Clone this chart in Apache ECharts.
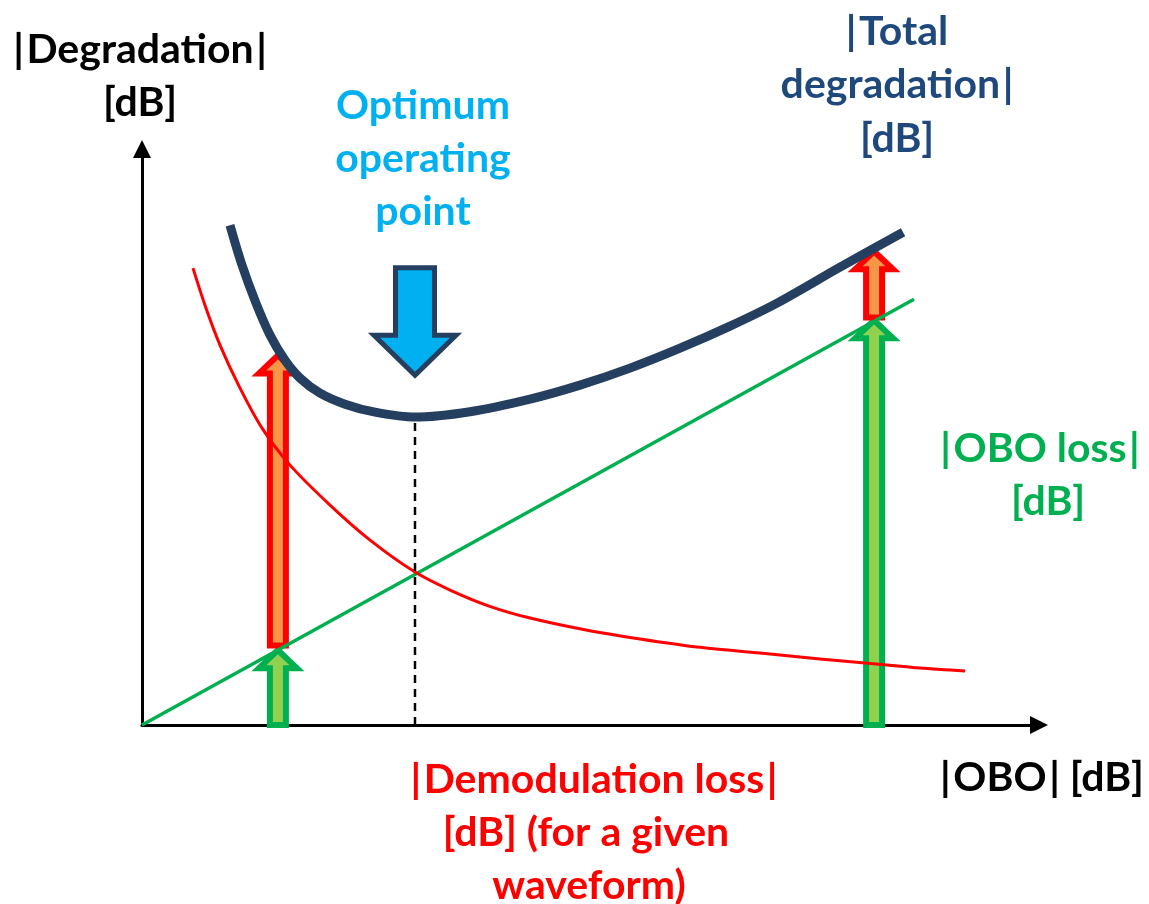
<!DOCTYPE html>
<html>
<head>
<meta charset="utf-8">
<script src="https://cdn.jsdelivr.net/npm/echarts@6/dist/echarts.min.js"></script>
<style>
  html, body { margin: 0; padding: 0; background: #fff; }
  #chart { width: 1149px; height: 904px; }
</style>
</head>
<body>
<div id="chart"></div>
<script>
// curves, in axis units (x: |OBO|, y: |degradation|)
const oboLoss = [[0, 0], [85.2, 72.8]];
const demodLoss = [
  [5.63, 78.12], [6.95, 71.79], [8.61, 64.96], [10.82, 57.61], [13.25, 50.77], [16.34, 44.44],
  [20.75, 37.61], [25.17, 31.62], [30.13, 26.15], [34.0, 23.08], [38.3, 20.34], [42.83, 18.29],
  [49.01, 16.24], [54.97, 14.7], [61.26, 13.33], [68.21, 12.31], [74.83, 11.28], [81.02, 10.43],
  [85.87, 9.74], [90.84, 9.23]
];
const totalDegradation = [
  [9.71, 85.47], [11.04, 78.63], [12.58, 72.14], [14.13, 66.67], [15.78, 62.39], [17.44, 59.32],
  [19.65, 56.75], [22.41, 54.87], [25.72, 53.5], [30.13, 52.65], [36.2, 53.57], [42.83, 55.73],
  [48.34, 58.12], [53.86, 61.03], [59.38, 64.44], [64.9, 68.21], [70.09, 72.14], [77.04, 78.29],
  [84.0, 84.27]
];
const optimumX = 30.13;
const optimumY = 52.65;

// block arrows: [x, from, to]
const greenArrows = [[15.0, 0, 12.8], [80.8, 0, 69.2]];
const redArrows = [[15.0, 13.6, 63.2], [80.8, 69.7, 81.0]];
const optimumArrow = [[30.13, 78.2, 59.8]];

function arrowRenderer(shaftHalf, headHalf, headLen, fill, stroke, lw) {
  return function (params, api) {
    const p0 = api.coord([api.value(0), api.value(1)]);
    const p1 = api.coord([api.value(0), api.value(2)]);
    const dir = p1[1] < p0[1] ? -1 : 1;
    const cx = p0[0];
    const baseY = p1[1] - dir * headLen;
    return {
      type: 'polygon',
      shape: {
        points: [
          [cx - shaftHalf, p0[1]], [cx - shaftHalf, baseY], [cx - headHalf, baseY],
          [cx, p1[1]], [cx + headHalf, baseY], [cx + shaftHalf, baseY], [cx + shaftHalf, p0[1]]
        ]
      },
      style: { fill: fill, stroke: stroke, lineWidth: lw, lineJoin: 'miter' }
    };
  };
}

const font = 'bold 41px Lato';
function label(text, x, y, color) {
  return {
    type: 'text', x: x, y: y,
    style: { text: text, font: font, fill: color, align: 'center', verticalAlign: 'middle' }
  };
}
const hs = '\u200A';

const chart = echarts.init(document.getElementById('chart'));
const option = {
  animation: false,
  grid: { left: 142, top: 149, width: 897, height: 576 },
  xAxis: {
    type: 'value', min: 0, max: 99,
    axisLine: { show: true, onZero: false, symbol: ['none', 'triangle'], symbolSize: [18, 18],
      lineStyle: { color: '#000', width: 3 } },
    axisTick: { show: false }, axisLabel: { show: false }, splitLine: { show: false }
  },
  yAxis: {
    type: 'value', min: 0, max: 98.5,
    axisLine: { show: true, onZero: false, symbol: ['none', 'triangle'], symbolSize: [18, 18],
      lineStyle: { color: '#000', width: 3 } },
    axisTick: { show: false }, axisLabel: { show: false }, splitLine: { show: false }
  },
  series: [
    {
      type: 'custom', renderItem: arrowRenderer(8, 19, 18, '#92d050', '#00b050', 6),
      data: greenArrows, z: 2, silent: true
    },
    {
      type: 'custom', renderItem: arrowRenderer(8, 19, 18, '#f79646', '#ff0000', 6),
      data: redArrows, z: 2, silent: true
    },
    {
      type: 'line', data: oboLoss, symbol: 'none', z: 3,
      lineStyle: { color: '#00b050', width: 3.5 }
    },
    {
      type: 'line', data: demodLoss, symbol: 'none', smooth: 0.3, z: 3,
      lineStyle: { color: '#ff0000', width: 3 }
    },
    {
      type: 'line', data: [[optimumX, 0], [optimumX, optimumY]], symbol: 'none', z: 3,
      lineStyle: { color: '#000', width: 2.5, type: [8, 6] }
    },
    {
      type: 'line', data: totalDegradation, symbol: 'none', smooth: 0.3, z: 4,
      lineStyle: { color: '#243f60', width: 9, cap: 'butt' }
    },
    {
      type: 'custom', renderItem: arrowRenderer(19.5, 41, 40, '#00b0f0', '#243f60', 5),
      data: optimumArrow, z: 5, silent: true
    }
  ],
  graphic: [
    label('|' + hs + 'Degradation' + hs + '|', 140, 50, '#000'),
    label('[dB]', 140, 103, '#000'),
    label('Optimum', 423, 106, '#00b0f0'),
    label('operating', 423, 159, '#00b0f0'),
    label('point', 423, 212, '#00b0f0'),
    label('|' + hs + 'Total', 897, 32, '#1f497d'),
    label('degradation' + hs + '|', 897, 85, '#1f497d'),
    label('[dB]', 897, 139, '#1f497d'),
    label('|' + hs + 'OBO loss' + hs + '|', 1040, 449, '#00b050'),
    label('[dB]', 1048, 502, '#00b050'),
    label('|' + hs + 'OBO' + hs + '| [dB]', 1042, 778, '#000'),
    label('|' + hs + 'Demodulation loss' + hs + '|', 594, 780, '#ff0000'),
    label('[dB] (for a given', 586, 833, '#ff0000'),
    label('waveform)', 589, 886, '#ff0000')
  ]
};
chart.setOption(option);
</script>
</body>
</html>
